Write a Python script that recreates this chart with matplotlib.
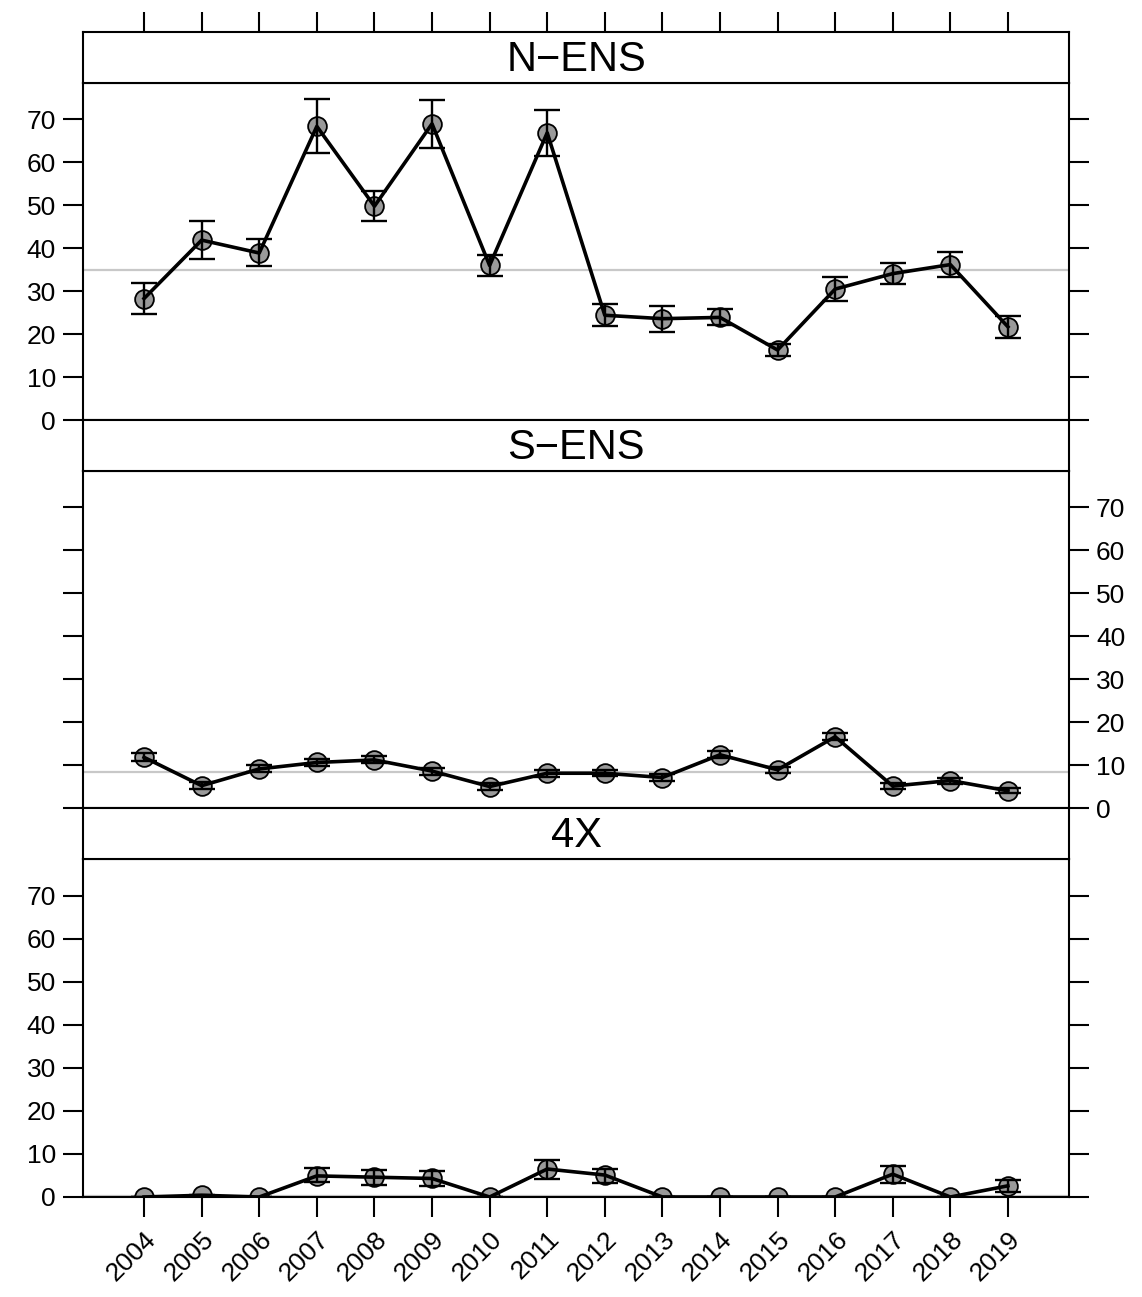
import numpy as np
import matplotlib
matplotlib.use('Agg')
import matplotlib.pyplot as plt

plt.rcParams['font.family'] = ['Liberation Sans', 'DejaVu Sans']

years = list(range(2004, 2020))
panels = ['N\u2212ENS', 'S\u2212ENS', '4X']

nens_mean = [28.3, 41.9, 38.9, 68.4, 49.8, 69.0, 36.0, 66.9, 24.4, 23.6, 23.9, 16.3, 30.5, 34.1, 36.2, 21.7]
nens_lo = [24.8, 37.4, 35.9, 62.2, 46.4, 63.3, 33.5, 61.6, 21.9, 20.5, 22.1, 14.9, 27.7, 31.6, 33.2, 19.1]
nens_hi = [31.8, 46.3, 42.1, 74.7, 53.3, 74.6, 38.5, 72.3, 27.0, 26.6, 25.9, 17.6, 33.2, 36.6, 39.1, 24.3]

sens_mean = [11.8, 5.2, 9.1, 10.6, 11.2, 8.6, 5.0, 8.1, 8.1, 7.1, 12.4, 8.9, 16.6, 5.1, 6.4, 4.0]
sens_lo = [10.9, 4.4, 8.3, 9.8, 10.4, 7.8, 4.2, 7.3, 7.4, 6.3, 11.6, 8.2, 15.8, 4.4, 5.7, 3.4]
sens_hi = [12.7, 6.0, 9.9, 11.4, 12.0, 9.4, 5.8, 8.9, 8.8, 7.9, 13.2, 9.6, 17.4, 5.8, 7.1, 4.6]

x4_mean = [0.0, 0.4, 0.0, 4.9, 4.6, 4.3, 0.0, 6.5, 5.1, 0.0, 0.0, 0.0, 0.0, 5.3, 0.0, 2.6]
x4_lo = [0.0, 0.3, 0.0, 3.4, 2.8, 2.6, 0.0, 4.2, 3.2, 0.0, 0.0, 0.0, 0.0, 3.3, 0.0, 1.2]
x4_hi = [0.0, 0.5, 0.0, 6.8, 6.3, 6.0, 0.0, 8.6, 6.5, 0.0, 0.0, 0.0, 0.0, 7.2, 0.0, 4.0]

means = [nens_mean, sens_mean, x4_mean]
lows = [nens_lo, sens_lo, x4_lo]
highs = [nens_hi, sens_hi, x4_hi]

W, H = 1142, 1297
fig = plt.figure(figsize=(W / 100, H / 100), dpi=100)

left = 83 / W
width = (1069 - 83) / W
# (strip top, plot top, plot bottom) in pixels
rows = [(32, 83, 420), (420, 471, 808), (808, 859, 1197)]
yticks = [0, 10, 20, 30, 40, 50, 60, 70]
xlim = (2002.94, 2020.06)
ylim = (0, 78.5)

for i, (st, pt, pb) in enumerate(rows):
    ax = fig.add_axes([left, 1 - pb / H, width, (pb - pt) / H])
    sax = fig.add_axes([left, 1 - pt / H, width, (pt - st) / H])

    m = np.array(means[i])
    lo = np.array(lows[i])
    hi = np.array(highs[i])

    ax.axhline(np.median(m), color='#c8c8c8', lw=1.6, zorder=1)
    ax.plot(years, m, 'o', ms=13.5, mfc='#9a9a9a', mec='black', mew=1.3, zorder=2)
    ax.errorbar(years, m, yerr=[m - lo, hi - m], fmt='none', ecolor='black',
                elinewidth=1.7, capsize=9.5, capthick=1.7, zorder=3)
    ax.plot(years, m, '-', color='black', lw=2.6, zorder=4)

    ax.set_xlim(*xlim)
    ax.set_ylim(*ylim)
    ax.set_yticks(yticks)
    ax.set_xticks(years)
    for s in ax.spines.values():
        s.set_linewidth(1.5)
    ax.tick_params(axis='both', direction='out', length=14.5, width=1.5,
                   labelsize=19, pad=5)
    if i == 1:
        ax.tick_params(axis='y', left=True, right=True, labelleft=False, labelright=True)
    else:
        ax.tick_params(axis='y', left=True, right=True, labelleft=True, labelright=False)
    if i == 2:
        ax.set_xticklabels([str(y) for y in years], rotation=45, ha='right',
                           rotation_mode='anchor')
        ax.tick_params(axis='x', bottom=True, top=False, labelbottom=True, pad=7)
    else:
        ax.tick_params(axis='x', bottom=False, top=False, labelbottom=False)

    sax.set_xlim(*xlim)
    sax.set_yticks([])
    sax.set_xticks(years)
    for s in sax.spines.values():
        s.set_linewidth(1.5)
    if i == 0:
        sax.tick_params(axis='x', bottom=False, top=True, labelbottom=False,
                        labeltop=False, direction='out', length=14.5, width=1.5)
    else:
        sax.tick_params(axis='x', bottom=False, top=False, labelbottom=False)
    sax.text(0.5, 0.45, panels[i], transform=sax.transAxes, ha='center',
             va='center', fontsize=30)

fig.savefig('out.png', dpi=100)
